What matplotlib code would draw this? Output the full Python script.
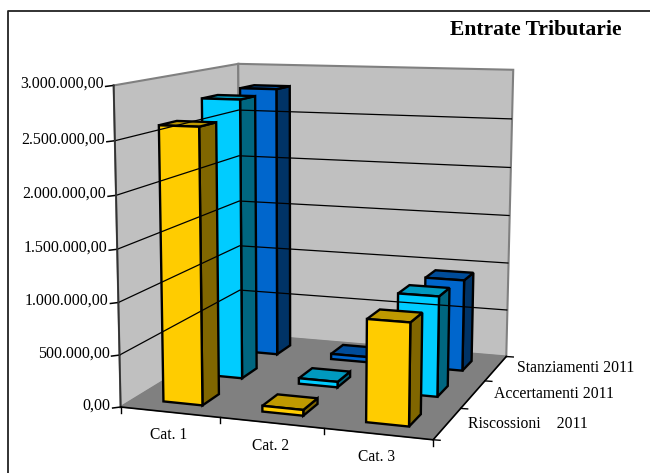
import numpy as np
import matplotlib
matplotlib.use("Agg")
import matplotlib.pyplot as plt
from matplotlib.patches import Polygon

categories = ["Cat. 1", "Cat. 2", "Cat. 3"]
series_names = ["Riscossioni    2011", "Accertamenti 2011", "Stanziamenti 2011"]
riscossioni = [2620000, 55000, 955000]
accertamenti = [2780000, 55000, 980000]
stanziamenti = [2800000, 55000, 935000]
y_ticks = [0, 500000, 1000000, 1500000, 2000000, 2500000, 3000000]
y_labels = ["0,00", "500.000,00", "1.000.000,00", "1.500.000,00",
            "2.000.000,00", "2.500.000,00", "3.000.000,00"]

front_colors = ["#FFCC00", "#00CCFF", "#0066CC"]
top_colors = ["#BF9900", "#0099BF", "#004C99"]
side_colors = ["#806600", "#006680", "#003366"]

plt.rcParams["font.family"] = ["Liberation Serif", "DejaVu Serif"]


def fit_camera():
    # perspective camera solved from where the box corners sit on the canvas
    world = [(0, 0, 0), (1, 0, 0), (2, 0, 0), (3, 0, 0), (3, 3, 0), (0, 3, 0),
             (0, 0, 3), (3, 3, 3), (0, 3, 3)]
    canvas = [(121, 406), (221, 417), (324, 429), (432, 441), (507, 355), (239, 335),
              (113, 85), (513, 70), (239, 64)]
    rows = []
    for (x, y, z), (px, py) in zip(world, canvas):
        rows.append([x, y, z, 1, 0, 0, 0, 0, -px * x, -px * y, -px * z, -px])
        rows.append([0, 0, 0, 0, x, y, z, 1, -py * x, -py * y, -py * z, -py])
    return np.linalg.svd(np.array(rows, dtype=float))[2][-1].reshape(3, 4)


camera = fit_camera()


def project(x, y, z):
    # x: category axis, y: series axis, z: value in euro
    p = camera @ np.array([x, y, z / 1e6, 1.0])
    return p[0] / p[2], p[1] / p[2]


def face(ax, pts, color, lw=1.7, edge="black"):
    ax.add_patch(Polygon([project(*p) for p in pts], closed=True, facecolor=color,
                         edgecolor=edge, linewidth=lw, joinstyle="miter"))


def draw_bar(ax, x, y, value, s):
    x0, x1 = x + 0.3, x + 0.7
    y0, y1 = y + 0.3, y + 0.7
    face(ax, [(x1, y0, 0), (x1, y1, 0), (x1, y1, value), (x1, y0, value)], side_colors[s])
    face(ax, [(x0, y0, value), (x1, y0, value), (x1, y1, value), (x0, y1, value)], top_colors[s])
    face(ax, [(x0, y0, 0), (x1, y0, 0), (x1, y0, value), (x0, y0, value)], front_colors[s])


fig = plt.figure(figsize=(6.5, 4.73), dpi=100)
ax = fig.add_axes([0, 0, 1, 1])
ax.set_xlim(0, 650)
ax.set_ylim(473, 0)
ax.axis("off")

# chart border runs off the canvas on the right and at the bottom
ax.plot([7.5, 7.5, 650], [473, 11.5, 11.5], color="#222222", lw=1.3)

top = y_ticks[-1]
# walls and floor
face(ax, [(0, 0, 0), (0, 3, 0), (0, 3, top), (0, 0, top)], "#C0C0C0", 1.5, "#808080")
face(ax, [(0, 3, 0), (3, 3, 0), (3, 3, top), (0, 3, top)], "#C0C0C0", 1.5, "#808080")
face(ax, [(0, 0, 0), (3, 0, 0), (3, 3, 0), (0, 3, 0)], "#808080", 0.8, "#808080")

# gridlines and value axis
for tick, label in zip(y_ticks, y_labels):
    xs, ys = zip(project(0, 0, tick), project(0, 3, tick), project(3, 3, tick))
    if tick > 0 and tick < top:
        ax.plot(xs, ys, color="black", lw=0.9, solid_capstyle="butt")
    px, py = project(0, 0, tick)
    ax.plot([px - 8, px], [py + 1, py], color="black", lw=1.1)
    ax.text(px - 10, py - 1.5, label, ha="right", va="center", fontsize=11.5, color="black")

xs, ys = zip(project(0, 0, 0), project(0, 0, top))
ax.plot(xs, ys, color="#333333", lw=1.3)

# axes along the floor
xs, ys = zip(project(0, 0, 0), project(3, 0, 0), project(3, 3, 0))
ax.plot(xs, ys, color="black", lw=1.2)
for i in range(4):
    px, py = project(i, 0, 0)
    ax.plot([px, px], [py, py + 6], color="black", lw=1.0)
for i in range(4):
    px, py = project(3, i, 0)
    ax.plot([px, px + 7], [py, py + 0.5], color="black", lw=1.0)

for i, name in enumerate(categories):
    px, py = project(i + 0.5, 0, 0)
    ax.text(px - 1, py + 23, name, ha="center", va="center", fontsize=11.2)

for i, name in enumerate(series_names):
    px, py = project(3, i + 0.5, 0)
    ax.text(px + 21, py, name, ha="left", va="center", fontsize=11.3)

# bars, back row first so the front ones overlap it
all_series = [riscossioni, accertamenti, stanziamenti]
for s in [2, 1, 0]:
    for c in range(len(categories)):
        draw_bar(ax, c, s, all_series[s][c], s)

ax.text(621, 30, "Entrate Tributarie", ha="right", va="center", fontsize=15.6, fontweight="bold")

fig.savefig("out.png", dpi=100)
